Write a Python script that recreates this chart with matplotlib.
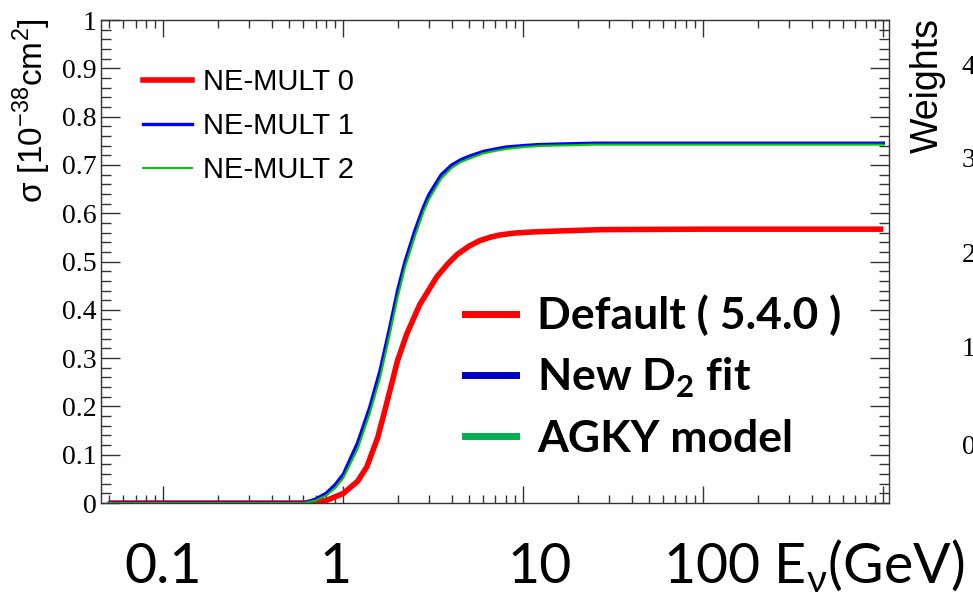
import matplotlib.pyplot as plt
from matplotlib.lines import Line2D
from matplotlib.ticker import MultipleLocator, FormatStrFormatter, LogLocator, NullFormatter

plt.rcParams['mathtext.fontset'] = 'custom'
plt.rcParams['mathtext.rm'] = 'Lato'
plt.rcParams['mathtext.bf'] = 'Lato:bold'
plt.rcParams['mathtext.sf'] = 'Liberation Sans'
plt.rcParams['mathtext.fallback'] = 'stixsans'

# neutrino energy in GeV, cross section in 1e-38 cm^2
e_mult0 = [0.05, 0.6, 0.8, 1.0, 1.2, 1.35, 1.55, 1.75, 2.0, 2.25, 2.65, 3.3,
           3.8, 4.3, 5.0, 5.7, 6.5, 7.4, 9, 11, 15, 27, 100, 1000]
xs_mult0 = [0, 0, 0.005, 0.02, 0.045, 0.075, 0.135, 0.21, 0.295, 0.35, 0.41,
            0.468, 0.495, 0.515, 0.532, 0.543, 0.550, 0.555, 0.559, 0.561,
            0.563, 0.566, 0.567, 0.567]

e_mult12 = [0.05, 0.6, 0.7, 0.8, 0.9, 1.0, 1.2, 1.4, 1.6, 1.8, 2.0, 2.2, 2.5,
            2.8, 3.0, 3.5, 4, 4.5, 5, 6, 7, 8, 10, 12, 15, 25, 100, 1000]
xs_mult1 = [0, 0, 0.008, 0.02, 0.038, 0.06, 0.125, 0.198, 0.275, 0.36, 0.44,
            0.5, 0.565, 0.615, 0.64, 0.68, 0.70, 0.711, 0.718, 0.728, 0.733,
            0.737, 0.740, 0.742, 0.743, 0.745, 0.745, 0.745]
xs_mult2 = [0, 0, 0.005, 0.015, 0.031, 0.052, 0.112, 0.185, 0.26, 0.345, 0.425,
            0.488, 0.553, 0.605, 0.63, 0.672, 0.694, 0.706, 0.713, 0.724,
            0.729, 0.733, 0.737, 0.739, 0.740, 0.742, 0.742, 0.742]

root_labels = ['NE-MULT 0', 'NE-MULT 1', 'NE-MULT 2']
slide_labels = ['Default ( 5.4.0 )', r'New D$_\mathbf{2}$ fit', 'AGKY model']
energy_labels = ['0.1', '1', '10', r'100 E$_\mathrm{\nu}$(GeV)']
weight_labels = ['4', '3', '2', '1', '0']

fig = plt.figure(figsize=(9.73, 5.96), dpi=100)
ax = fig.add_axes([0.1038, 0.156, 0.81, 0.8104])

ax.plot(e_mult0, xs_mult0, color='#ff0000', lw=4, solid_capstyle='butt')
ax.plot(e_mult12, xs_mult1, color='#0000ff', lw=2.4)
ax.plot(e_mult12, xs_mult2, color='#00cc00', lw=1.5)

ax.set_xscale('log')
ax.set_xlim(0.045, 1077)
ax.set_ylim(0, 1)

# ROOT-like frame: ticks inside on all four sides
ax.xaxis.set_major_locator(LogLocator(base=10, numticks=10))
ax.xaxis.set_minor_locator(LogLocator(base=10, subs=range(2, 10), numticks=20))
ax.xaxis.set_major_formatter(NullFormatter())
ax.xaxis.set_minor_formatter(NullFormatter())
ax.yaxis.set_major_locator(MultipleLocator(0.1))
ax.yaxis.set_minor_locator(MultipleLocator(0.02))
ax.yaxis.set_major_formatter(FormatStrFormatter('%g'))
ax.tick_params(which='both', direction='in', top=True, right=True,
               color='#333333', width=1)
ax.tick_params(axis='x', which='major', length=12)
ax.tick_params(axis='x', which='minor', length=6)
ax.tick_params(axis='y', which='major', length=14, pad=3)
ax.tick_params(axis='y', which='minor', length=7)
for lab in ax.get_yticklabels():
    lab.set_fontfamily('Liberation Serif')
    lab.set_fontsize(20)
for sp in ax.spines.values():
    sp.set_color('#333333')
    sp.set_linewidth(1)

# legend of the three multiplicity models
root_handles = [Line2D([], [], color='#ff0000', lw=4),
                Line2D([], [], color='#0000ff', lw=2.4),
                Line2D([], [], color='#00cc00', lw=1.5)]
leg1 = ax.legend(root_handles, root_labels, loc='upper left',
                 bbox_to_anchor=(0.053, 0.901), frameon=False, borderpad=0,
                 borderaxespad=0, handlelength=1.7, handletextpad=0.38,
                 labelspacing=0.55, prop={'family': 'Liberation Sans', 'size': 21})
ax.add_artist(leg1)

# slide annotation legend
slide_handles = [Line2D([], [], color='#ff0000', lw=5),
                 Line2D([], [], color='#0000c0', lw=5),
                 Line2D([], [], color='#00b050', lw=5)]
ax.legend(slide_handles, slide_labels, loc='upper left',
          bbox_to_anchor=(0.462, 0.431), frameon=False, borderpad=0,
          borderaxespad=0, handlelength=1.15, handletextpad=0.47,
          labelspacing=0.43, prop={'family': 'Lato', 'weight': 'bold', 'size': 32})

fig.text(32 / 973, 1 - 18 / 596, r'σ [10$^{\mathsf{-38}}$cm$^{\mathsf{2}}$]',
         rotation=90, ha='center', va='top', family='Liberation Sans', fontsize=24)
fig.text(928 / 973, 1 - 18 / 596, 'Weights', rotation=90, ha='center', va='top',
         family='Liberation Sans', fontsize=27)

# partly visible tick labels of the neighbouring panel
for lab, yp in zip(weight_labels, [68, 160, 256, 350, 447]):
    fig.text(962 / 973, 1 - yp / 596, lab, ha='left', va='center',
             family='Liberation Serif', fontsize=20)

# large energy labels under the axis
for lab, xp, ha in zip(energy_labels, [163, 336, 540, 663],
                       ['center', 'center', 'center', 'left']):
    fig.text(xp / 973, 1 - 583 / 596, lab, ha=ha, va='baseline',
             family='Lato', fontsize=40)

fig.savefig('out.png', dpi=100)
